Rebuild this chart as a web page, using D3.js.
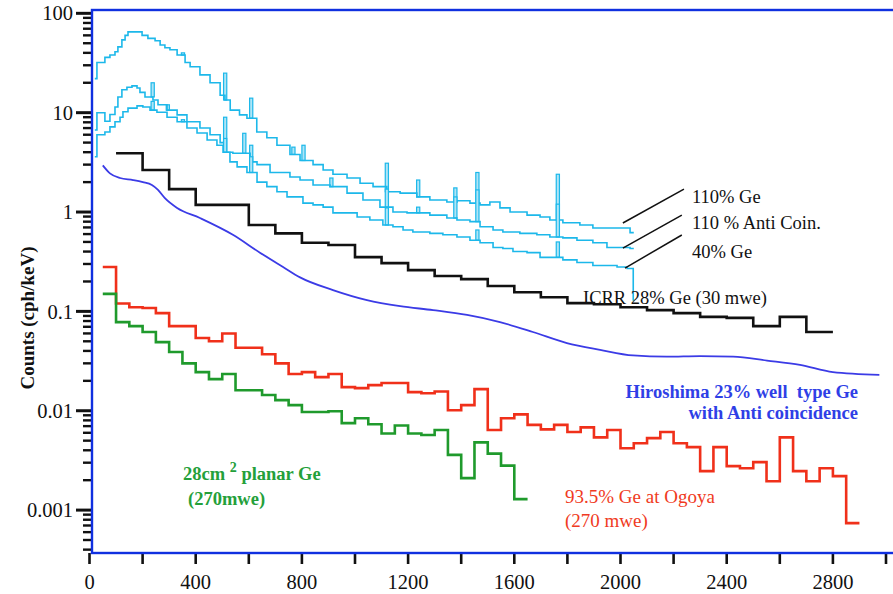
<!DOCTYPE html>
<html>
<head>
<meta charset="utf-8">
<script src="https://cdn.jsdelivr.net/npm/d3@7"></script>
<style>
  body { margin: 0; background: #fff; }
  svg { display: block; }
  text { font-family: "Liberation Serif", "DejaVu Serif", serif; }
</style>
</head>
<body>
<div id="chart"></div>
<script>
// ---------------------------------------------
// DATA (energy in keV, counts in cph/keV)
// ---------------------------------------------

// ICRR 28% Ge (30 mwe): 100 keV bins from 100 keV
const icrrStart = 100, icrrWidth = 100;
const icrrValues = [3.9, 2.65, 1.70, 1.18, 1.18, 0.74, 0.61, 0.49, 0.466, 0.352,
  0.306, 0.26, 0.227, 0.211, 0.18, 0.156, 0.139, 0.121, 0.118, 0.11,
  0.103, 0.096, 0.088, 0.086, 0.071, 0.088, 0.062];

// 93.5% Ge at Ogoya: 50 keV bins from 50 keV
const ogoyaStart = 50, ogoyaWidth = 50;
const ogoyaValues = [0.28, 0.12, 0.11, 0.108, 0.096, 0.071, 0.071, 0.054, 0.050, 0.06,
  0.043, 0.043, 0.037, 0.030, 0.0234, 0.0245, 0.0218, 0.0234, 0.0173, 0.0169,
  0.0181, 0.019, 0.019, 0.0154, 0.015, 0.0156, 0.0101, 0.0114, 0.0165, 0.0064,
  0.0084, 0.0092, 0.0072, 0.0065, 0.0072, 0.0061, 0.0068, 0.0054, 0.0064, 0.0042,
  0.0047, 0.0053, 0.0061, 0.0047, 0.0043, 0.00247, 0.0043, 0.00277, 0.00264, 0.00304,
  0.00195, 0.0054, 0.00247, 0.00195, 0.00264, 0.0022, 0.00074];

// 28cm2 planar Ge (270 mwe): 50 keV bins from 50 keV
const planarStart = 50, planarWidth = 50;
const planarValues = [0.15, 0.078, 0.071, 0.062, 0.049, 0.039, 0.030, 0.0245, 0.0208, 0.0234,
  0.0161, 0.0161, 0.0144, 0.0128, 0.0114, 0.0097, 0.0097, 0.0099, 0.0075, 0.0084,
  0.0073, 0.0059, 0.0071, 0.0059, 0.0057, 0.0064, 0.0036, 0.0021, 0.0048, 0.0037,
  0.0028, 0.00129];

// Hiroshima 23% well type Ge with anti coincidence (smooth curve)
const hiroshima = [[50, 2.95], [77, 2.45], [115, 2.2], [164, 2.1], [201, 2.0], [235, 1.87],
  [258, 1.67], [284, 1.38], [330, 1.1], [416, 0.87], [540, 0.59], [642, 0.39], [729, 0.28],
  [793, 0.22], [917, 0.164], [1045, 0.13], [1170, 0.113], [1294, 0.103], [1422, 0.092],
  [1546, 0.078], [1670, 0.062], [1798, 0.048], [1923, 0.041], [2047, 0.036], [2175, 0.035],
  [2299, 0.0355], [2424, 0.035], [2552, 0.032], [2676, 0.029], [2800, 0.0245], [2975, 0.023]];

// cyan spectra: step points [energy where step starts, value]
const ge110 = [[20, 22], [28, 32], [58, 36], [77, 38], [96, 41], [107, 46], [122, 54], [134, 60],
  [145, 65], [198, 60], [220, 56], [247, 53], [266, 48], [284, 45], [303, 43], [330, 38],
  [360, 32], [379, 29], [416, 24], [454, 20], [492, 15], [510, 13.4], [530, 10.6], [565, 9.5],
  [593, 8.8], [630, 6.4], [668, 5.6], [706, 4.7], [755, 3.8], [793, 3.3], [842, 3.0],
  [880, 2.65], [917, 2.4], [970, 2.2], [1019, 1.95], [1068, 1.8], [1120, 1.6], [1170, 1.55],
  [1233, 1.42], [1282, 1.32], [1346, 1.26], [1384, 1.3], [1433, 1.23], [1471, 1.18],
  [1508, 1.26], [1546, 1.1], [1584, 1.0], [1648, 0.93], [1697, 0.89], [1734, 0.83],
  [1783, 0.78], [1847, 0.74], [1896, 0.69], [2036, 0.62], [2050, 0.62]];

const ge110Anti = [[20, 6.7], [28, 10], [58, 8.2], [77, 9.6], [96, 11.4], [107, 14.4], [122, 17],
  [141, 18], [160, 18.6], [179, 17.7], [190, 16], [209, 14.4], [239, 13.4], [258, 12],
  [292, 10.6], [330, 9.5], [367, 8.1], [416, 7.0], [454, 6.0], [492, 5.0], [510, 4.0],
  [540, 3.9], [605, 3.2], [631, 3.0], [680, 2.5], [755, 2.25], [793, 2.1], [842, 1.87],
  [906, 1.8], [970, 1.55], [1030, 1.32], [1094, 1.12], [1143, 1.0], [1196, 0.98],
  [1282, 0.93], [1346, 0.87], [1384, 0.83], [1433, 0.8], [1471, 0.71], [1520, 0.66],
  [1557, 0.63], [1621, 0.61], [1685, 0.59], [1734, 0.56], [1783, 0.55], [1836, 0.52],
  [1896, 0.49], [1949, 0.44], [2036, 0.43], [2050, 0.43]];

const ge40 = [[20, 3.6], [28, 6.0], [58, 6.4], [77, 7.2], [96, 8.1], [115, 9.0], [126, 10.2],
  [145, 11.1], [179, 11.7], [201, 11.4], [228, 10.6], [254, 10.1], [292, 9.0], [330, 8.1],
  [367, 7.0], [405, 6.25], [443, 5.3], [480, 4.7], [503, 4.0], [529, 3.2], [556, 2.85],
  [593, 2.5], [631, 2.0], [668, 1.8], [706, 1.6], [744, 1.42], [804, 1.23], [842, 1.18],
  [880, 1.12], [917, 0.98], [1008, 0.89], [1056, 0.83], [1105, 0.74], [1143, 0.71],
  [1181, 0.66], [1218, 0.63], [1282, 0.61], [1331, 0.59], [1384, 0.56], [1433, 0.52],
  [1471, 0.49], [1520, 0.44], [1557, 0.43], [1595, 0.4], [1648, 0.39], [1697, 0.35],
  [1783, 0.33], [1836, 0.31], [1896, 0.29], [1987, 0.28], [2025, 0.27], [2048, 0.13], [2052, 0.13]];

// gamma lines on the cyan spectra: [energy, peak value]
const ge110Peaks = [[352, 40], [511, 25], [609, 14], [768, 4.5], [806, 4.7], [1120, 3.1],
  [1238, 2.1], [1378, 1.75], [1461, 2.5], [1764, 2.4]];
const ge110AntiPeaks = [[238, 20], [295, 12], [511, 9], [583, 6.2], [609, 4.7], [911, 2.2],
  [1120, 1.7], [1238, 1.12], [1378, 1.42], [1461, 1.67], [1764, 1.2]];
const ge40Peaks = [[238, 13], [352, 8.5], [511, 5.5], [609, 3.6], [1120, 1.1], [1461, 0.66], [1764, 0.5]];

const xTicks = [0, 400, 800, 1200, 1600, 2000, 2400, 2800];
const yTickLabels = ["0.001", "0.01", "0.1", "1", "10", "100"];

// ---------------------------------------------
// SETUP
// ---------------------------------------------
const W = 893, H = 594;
const frame = { left: 92, top: 10, right: 895, bottom: 553 };

const svg = d3.select("#chart").append("svg")
  .attr("width", W)
  .attr("height", H);

const x = d3.scaleLinear().domain([0, 3000]).range([89.5, 886]);
const y = d3.scaleLog().domain([3.7e-4, 108]).range([frame.bottom, frame.top]);

svg.append("clipPath").attr("id", "plot-clip")
  .append("rect")
  .attr("x", frame.left).attr("y", frame.top)
  .attr("width", frame.right - frame.left)
  .attr("height", frame.bottom - frame.top);

const plot = svg.append("g").attr("clip-path", "url(#plot-clip)");

const stepLine = d3.line()
  .x(d => x(d[0]))
  .y(d => y(d[1]))
  .curve(d3.curveStepAfter);

function binsToSteps(start, width, values) {
  const pts = values.map((v, i) => [start + i * width, v]);
  pts.push([start + values.length * width, values[values.length - 1]]);
  return pts;
}

// ---------------------------------------------
// AXES
// ---------------------------------------------
// y ticks (black, outside the blue frame)
const yTickVals = [];
for (let d = -4; d <= 2; d++) {
  for (let m = 1; m <= 9; m++) {
    const v = m * Math.pow(10, d);
    if (v >= y.domain()[0] && v <= 100.0001) yTickVals.push({ v, major: m === 1 });
  }
}
svg.append("g").selectAll("line")
  .data(yTickVals)
  .join("line")
  .attr("x1", d => d.major ? 76 : 83)
  .attr("x2", frame.left)
  .attr("y1", d => y(d.v))
  .attr("y2", d => y(d.v))
  .attr("stroke", "#111")
  .attr("stroke-width", d => d.major ? 3 : 2.4);

svg.append("g").selectAll("text")
  .data(yTickLabels)
  .join("text")
  .attr("x", 73)
  .attr("y", d => y(+d))
  .attr("dy", "0.35em")
  .attr("text-anchor", "end")
  .attr("font-size", 20.5)
  .attr("fill", "#111")
  .text(d => d);

// x ticks
const xMinor = d3.range(0, 3001, 200);
svg.append("g").selectAll("line")
  .data(xMinor)
  .join("line")
  .attr("x1", d => x(d))
  .attr("x2", d => x(d))
  .attr("y1", frame.bottom)
  .attr("y2", frame.bottom + 11)
  .attr("stroke", "#111")
  .attr("stroke-width", 2.6);

svg.append("g").selectAll("text")
  .data(xTicks)
  .join("text")
  .attr("x", d => x(d))
  .attr("y", 589)
  .attr("text-anchor", "middle")
  .attr("font-size", 20.5)
  .attr("fill", "#111")
  .text(d => d);

svg.append("text")
  .attr("transform", "translate(27,318) rotate(-90)")
  .attr("dy", "0.35em")
  .attr("text-anchor", "middle")
  .attr("font-size", 19)
  .attr("font-weight", "bold")
  .attr("fill", "#111")
  .text("Counts (cph/keV)");

// ---------------------------------------------
// SERIES
// ---------------------------------------------
const cyan = "#1cb8ea";
const cyanPale = "#aee5f7";

function stepValueAt(series, e) {
  let v = series[0][1];
  for (const p of series) { if (p[0] <= e) v = p[1]; }
  return v;
}

function drawCyan(series, peaks) {
  plot.append("g").selectAll("rect")
    .data(peaks)
    .join("rect")
    .attr("x", d => x(d[0] - 6))
    .attr("width", x(12) - x(0))
    .attr("y", d => y(d[1]))
    .attr("height", d => Math.max(0, y(stepValueAt(series, d[0])) - y(d[1])))
    .attr("fill", cyanPale)
    .attr("stroke", cyan)
    .attr("stroke-width", 1.2);

  plot.append("path")
    .datum(series)
    .attr("d", stepLine)
    .attr("fill", "none")
    .attr("stroke", cyan)
    .attr("stroke-width", 1.6);
}

drawCyan(ge110, ge110Peaks);
drawCyan(ge110Anti, ge110AntiPeaks);
drawCyan(ge40, ge40Peaks);

plot.append("path")
  .datum(binsToSteps(icrrStart, icrrWidth, icrrValues))
  .attr("d", stepLine)
  .attr("fill", "none")
  .attr("stroke", "#111")
  .attr("stroke-width", 2.6);

plot.append("path")
  .datum(hiroshima)
  .attr("d", d3.line().x(d => x(d[0])).y(d => y(d[1])).curve(d3.curveMonotoneX))
  .attr("fill", "none")
  .attr("stroke", "#3b3be6")
  .attr("stroke-width", 1.8);

plot.append("path")
  .datum(binsToSteps(ogoyaStart, ogoyaWidth, ogoyaValues))
  .attr("d", stepLine)
  .attr("fill", "none")
  .attr("stroke", "#f0301a")
  .attr("stroke-width", 2.6);

plot.append("path")
  .datum(binsToSteps(planarStart, planarWidth, planarValues))
  .attr("d", stepLine)
  .attr("fill", "none")
  .attr("stroke", "#1f9a2c")
  .attr("stroke-width", 2.6);

// frame
svg.append("rect")
  .attr("x", frame.left).attr("y", frame.top)
  .attr("width", frame.right - frame.left)
  .attr("height", frame.bottom - frame.top)
  .attr("fill", "none")
  .attr("stroke", "#1030e0")
  .attr("stroke-width", 2.4);

// ---------------------------------------------
// ANNOTATIONS
// ---------------------------------------------
// leader lines in data units: [[e1, v1], [e2, v2]]
const leaders = [
  [[2239, 1.70], [2009, 0.775]],
  [[2231, 0.93], [2009, 0.434]],
  [[2231, 0.587], [2017, 0.273]]
];
svg.append("g").selectAll("line")
  .data(leaders)
  .join("line")
  .attr("x1", d => x(d[0][0])).attr("y1", d => y(d[0][1]))
  .attr("x2", d => x(d[1][0])).attr("y2", d => y(d[1][1]))
  .attr("stroke", "#111")
  .attr("stroke-width", 1.5);

function label(txt, px, py, color, opts = {}) {
  return svg.append("text")
    .attr("x", px).attr("y", py)
    .attr("font-size", opts.size || 18.5)
    .attr("font-weight", opts.bold ? "bold" : "normal")
    .attr("text-anchor", opts.anchor || "start")
    .attr("fill", color)
    .style("white-space", "pre")
    .text(txt);
}

label("110% Ge", 692, 203, "#111");
label("110 % Anti Coin.", 692, 229, "#111");
label("40% Ge", 692, 258, "#111");
label("ICRR 28% Ge (30 mwe)", 583, 304, "#111");

label("Hiroshima 23% well  type Ge", 858, 398, "#2f3fe6", { anchor: "end", bold: true });
label("with Anti coincidence", 858, 419, "#2f3fe6", { anchor: "end", bold: true });

const g1 = label("28cm ", 183, 480, "#24a03a", { bold: true });
g1.append("tspan").attr("dy", -8).attr("font-size", 14).text("2");
g1.append("tspan").attr("dy", 8).text(" planar Ge");
label("(270mwe)", 188, 505, "#24a03a", { bold: true });

label("93.5% Ge at Ogoya", 565, 503, "#f03a22", { size: 19 });
label("(270 mwe)", 565, 527, "#f03a22", { size: 19 });
</script>
</body>
</html>
